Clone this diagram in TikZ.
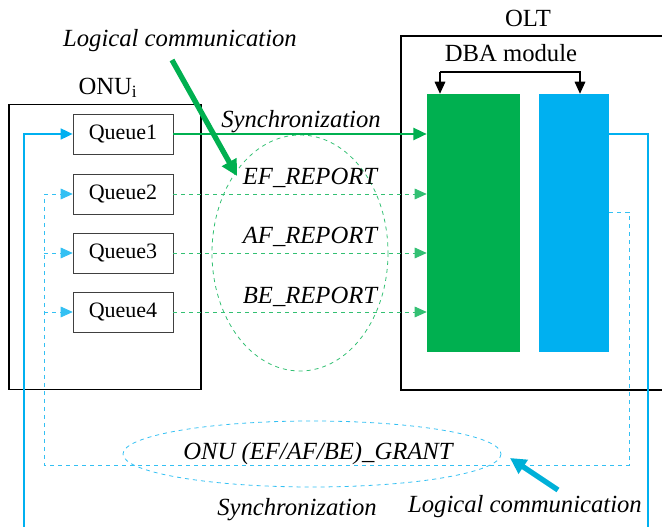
\documentclass[tikz,border=0pt]{standalone}
\usepackage{fontspec}
\setmainfont{Liberation Serif}
\usetikzlibrary{arrows.meta}
\definecolor{gr}{RGB}{0,176,80}
\definecolor{bl}{RGB}{0,176,240}
\begin{document}
\begin{tikzpicture}[x=0.75pt,y=-0.75pt,
  queue/.style={draw=black!75,thin,minimum width=75pt,minimum height=30pt,inner sep=0pt,font=\fontsize{16.5}{17}\selectfont},
  lbl/.style={font=\fontsize{18.5}{19}\selectfont\itshape,inner sep=0pt},
  hd/.style={font=\fontsize{18.5}{19}\selectfont},
  gline/.style={gr,line width=1.8pt,-{Triangle[length=10pt,width=9pt]}},
  gdash/.style={gr!80,dashed,line width=0.6pt,-{Triangle[length=9pt,width=8pt]}},
  bline/.style={bl,line width=1.8pt},
  bdash/.style={bl!80,dashed,line width=0.6pt},
  btip/.style={-{Triangle[length=9pt,width=8pt]}}]
\useasboundingbox (0,0) rectangle (662,527);
% boxes
\node[draw,line width=0.9pt,minimum width=144pt,minimum height=214pt,inner sep=0pt] (onu) at (105,247) {};
\draw[line width=0.9pt] (662,36) -- (401,36) -- (401,390) -- (662,390);
\node[hd] (onul) at (108,88) {ONU\textsubscript{i}};
\node[hd] (oltl) at (528,18) {OLT};
\node[hd] (dba) at (511,53) {DBA module};
% queues
\node[queue] (q1) at (123,134) {Queue1};
\node[queue] (q2) at (123,194) {Queue2};
\node[queue] (q3) at (123,253) {Queue3};
\node[queue] (q4) at (123,312) {Queue4};
% DBA rects
\node[fill=gr,inner sep=0pt,minimum width=69.75pt,minimum height=193.5pt] (grect) at (473.5,223) {};
\node[fill=bl,inner sep=0pt,minimum width=52.5pt,minimum height=193.5pt] (brect) at (574,223) {};
% bracket
\draw[line width=0.8pt,-{Triangle[length=9pt,width=8pt]}] (440,72) -- (grect.north -| 440,0);
\draw[line width=0.8pt,-{Triangle[length=9pt,width=8pt]}] (440,72) -- (580,72) -- (brect.north -| 580,0);
% green ellipse
\draw[gr!80,dashed,line width=0.6pt] (300,253) ellipse (88 and 118);
% green arrows
\draw[gline] (q1.east) -- (grect.west |- q1.east);
\draw[gdash] (q2.east) -- (grect.west |- q2.east);
\draw[gdash] (q3.east) -- (grect.west |- q3.east);
\draw[gdash] (q4.east) -- (grect.west |- q4.east);
\node[lbl] (sync1) at (301,122) {Synchronization};
\node[lbl] (efr) at (310,178) {EF\_REPORT};
\node[lbl] (afr) at (310,237) {AF\_REPORT};
\node[lbl] (ber) at (310,297) {BE\_REPORT};
% logical communication top
\node[lbl] (lc1) at (180,41) {Logical communication};
\coordinate (ga) at (172,60);
\coordinate (gb) at (237,176);
\draw[gr,line width=4pt,-{Triangle[length=12pt,width=12pt]}] (ga) -- (gb);
% blue solid loop
\coordinate (bl1) at (24,527);
\coordinate (br1) at (648,527);
\draw[bline,btip] (bl1) -- (24,134) -- (q1.west);
\draw[bline] (brect.east |- 0,134) -- (648,134) -- (br1);
% blue dashed loop
\draw[bdash] (brect.east |- 0,212) -- (629,212) -- (629,465) -- (44,465) -- (44,194);
\draw[bdash,btip] (44,194) -- (q2.west);
\draw[bdash,btip] (44,253) -- (q3.west);
\draw[bdash,btip] (44,312) -- (q4.west);
% grant ellipse
\draw[bl!80,dashed,line width=0.6pt] (312,454) ellipse (189 and 33);
\node[lbl] (grant) at (318,454) {ONU (EF/AF/BE)\_GRANT};
\node[lbl] (sync2) at (297,510) {Synchronization};
\node[lbl] (lc2) at (525,507) {Logical communication};
\coordinate (ba) at (558,490);
\coordinate (bb) at (510,458);
\draw[bl!85!gr,line width=4pt,-{Triangle[length=12pt,width=12pt]}] (ba) -- (bb);
\end{tikzpicture}
\end{document}
